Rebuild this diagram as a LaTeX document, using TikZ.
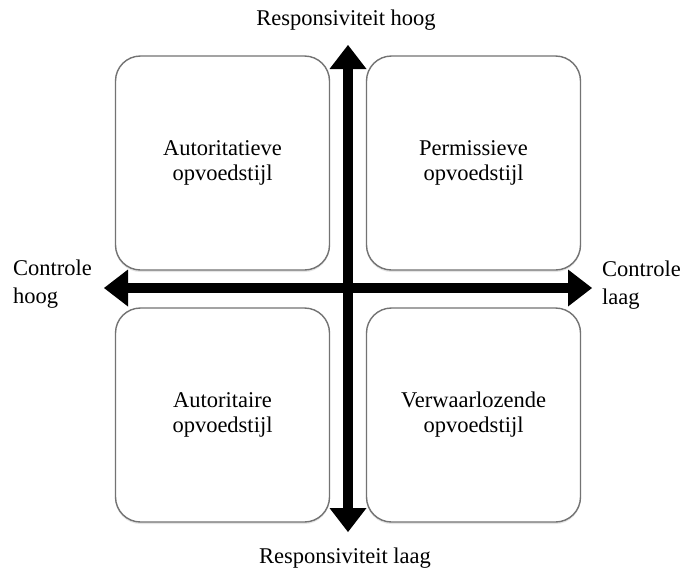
\documentclass[tikz,border=0pt]{standalone}
\usepackage{fontspec}
\setmainfont{Liberation Serif}
\usetikzlibrary{arrows.meta,shadows}
\begin{document}
\begin{tikzpicture}[x=1pt,y=-1pt,
  quad/.style={draw=black!55, line width=1.4pt, rounded corners=25pt, fill=white,
    minimum width=214pt, minimum height=214pt, align=center, inner sep=0pt,
    font=\fontsize{22.5}{25}\selectfont,
    drop shadow={shadow xshift=0pt, shadow yshift=-2pt, opacity=0.2}},
  lbl/.style={font=\fontsize{22.5}{28}\selectfont, inner sep=0pt, align=left},
  axisline/.style={line width=10pt, {Triangle[width=37pt,length=24pt,line width=0pt]}-{Triangle[width=37pt,length=24pt,line width=0pt]}}
]
\useasboundingbox (0,0) rectangle (687,574);
\fill[white] (0,0) rectangle (687,574);

\node[quad] (tl) at (222.5,163) {Autoritatieve\\opvoedstijl};
\node[quad] (tr) at (473.5,163) {Permissieve\\opvoedstijl};
\node[quad] (bl) at (222.5,415) {Autoritaire\\opvoedstijl};
\node[quad] (br) at (473.5,415) {Verwaarlozende\\opvoedstijl};

\coordinate (up) at (348,45);
\coordinate (down) at (348,532);
\coordinate (left) at (104,288);
\coordinate (right) at (592,288);

\draw[axisline] (down) -- (up);
\draw[axisline] (left) -- (right);

\node[lbl] (rh) at (346,20) {Responsiviteit hoog};
\node[lbl] (rl) at (345,558) {Responsiviteit laag};
\node[lbl, anchor=west] (ch) at (13,284) {Controle\\hoog};
\node[lbl, anchor=west] (cl) at (602,285) {Controle\\laag};
\end{tikzpicture}
\end{document}
